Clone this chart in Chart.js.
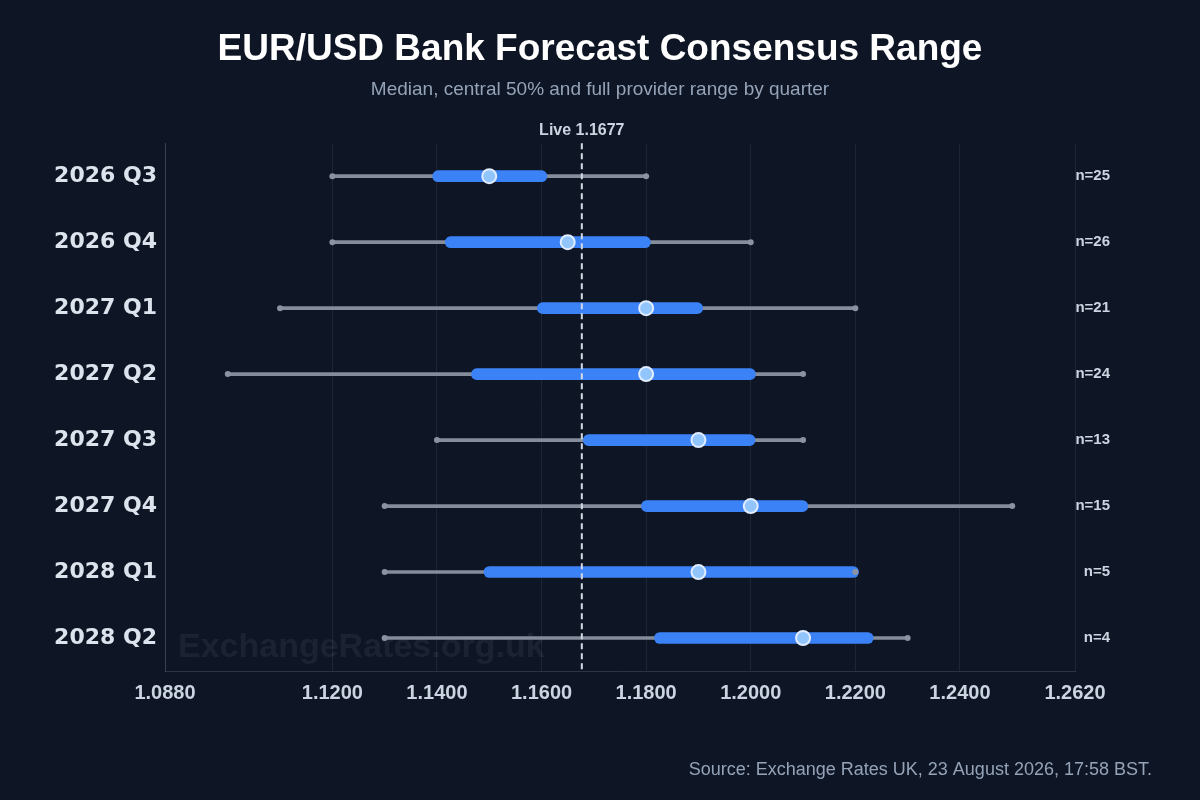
<!DOCTYPE html>
<html>
<head>
<meta charset="utf-8">
<script src="https://cdn.jsdelivr.net/npm/chart.js@4.4.1/dist/chart.umd.min.js"></script>
<style>
  html, body { margin: 0; padding: 0; background: #0e1524; }
  #wrap { width: 1200px; height: 800px; }
</style>
</head>
<body>
<div id="wrap"><canvas id="chart" width="1200" height="800"></canvas></div>
<script>
// Quarters and forecast statistics
const quarters = ["2026 Q3", "2026 Q4", "2027 Q1", "2027 Q2", "2027 Q3", "2027 Q4", "2028 Q1", "2028 Q2"];
const lows = [1.12, 1.12, 1.11, 1.10, 1.14, 1.13, 1.13, 1.13];
const highs = [1.18, 1.20, 1.22, 1.21, 1.21, 1.25, 1.22, 1.23];
const q1s = [1.1392, 1.1416, 1.1592, 1.1466, 1.1680, 1.1791, 1.1490, 1.1816];
const q3s = [1.1610, 1.1808, 1.1908, 1.2009, 1.2008, 1.2109, 1.2206, 1.2234];
const medians = [1.150, 1.165, 1.180, 1.180, 1.190, 1.200, 1.190, 1.210];
const counts = [25, 26, 21, 24, 13, 15, 5, 4];
const liveRate = 1.1677;
const xTicks = [1.088, 1.12, 1.14, 1.16, 1.18, 1.20, 1.22, 1.24, 1.262];

const FONT = "'Liberation Sans', Arial, sans-serif";

// Extra drawings: background, watermark, live line, n labels, source
const extras = {
  id: "extras",
  beforeDraw(chart) {
    const ctx = chart.ctx;
    ctx.save();
    ctx.fillStyle = "#0e1524";
    ctx.fillRect(0, 0, chart.width, chart.height);
    ctx.restore();
  },
  beforeDatasetsDraw(chart) {
    const ctx = chart.ctx;
    ctx.save();
    ctx.font = "bold 34px " + FONT;
    ctx.fillStyle = "rgba(148, 163, 184, 0.10)";
    ctx.textAlign = "left";
    ctx.textBaseline = "middle";
    ctx.fillText("ExchangeRates.org.uk", chart.chartArea.left + 13, 648);
    ctx.restore();
  },
  afterDatasetsDraw(chart) {
    const { ctx, chartArea, scales } = chart;
    const x = scales.x.getPixelForValue(liveRate);
    ctx.save();
    ctx.strokeStyle = "#d4dae3";
    ctx.lineWidth = 2;
    ctx.setLineDash([6, 4]);
    ctx.beginPath();
    ctx.moveTo(x, chartArea.top);
    ctx.lineTo(x, chartArea.bottom);
    ctx.stroke();
    ctx.setLineDash([]);

    ctx.font = "bold 16px " + FONT;
    ctx.fillStyle = "#cbd5e1";
    ctx.textAlign = "center";
    ctx.textBaseline = "middle";
    ctx.fillText("Live " + liveRate.toFixed(4), x, chartArea.top - 13);

    ctx.font = "bold 15px " + FONT;
    ctx.textAlign = "right";
    counts.forEach((n, i) => {
      ctx.fillText("n=" + n, chartArea.right + 35, scales.y.getPixelForValue(i));
    });

    ctx.font = "18px " + FONT;
    ctx.fillStyle = "#94a3b8";
    ctx.fillText("Source: Exchange Rates UK, 23 August 2026, 17:58 BST.", 1152, 770);
    ctx.restore();
  },
};

new Chart(document.getElementById("chart"), {
  type: "bar",
  data: {
    labels: quarters,
    datasets: [
      {
        type: "scatter",
        label: "Median",
        data: medians.map((m, i) => ({ x: m, y: quarters[i] })),
        pointRadius: 7,
        pointBackgroundColor: "#93c5fd",
        pointBorderColor: "#e0ecff",
        pointBorderWidth: 2,
        showLine: false,
        order: 0,
      },
      {
        type: "scatter",
        label: "Range ends",
        data: lows.map((l, i) => ({ x: l, y: quarters[i] }))
          .concat(highs.map((h, i) => ({ x: h, y: quarters[i] }))),
        pointRadius: 3,
        pointBackgroundColor: "#8a93a3",
        pointBorderWidth: 0,
        showLine: false,
        order: 1,
      },
      {
        label: "Central 50%",
        data: q1s.map((q, i) => [q, q3s[i]]),
        backgroundColor: "#3b82f6",
        barThickness: 11,
        borderRadius: 6,
        borderSkipped: false,
        grouped: false,
        order: 2,
      },
      {
        label: "Full range",
        data: lows.map((l, i) => [l, highs[i]]),
        backgroundColor: "#858d9b",
        barThickness: 3,
        grouped: false,
        order: 3,
      },
    ],
  },
  options: {
    indexAxis: "y",
    responsive: false,
    animation: false,
    layout: { padding: 0 },
    plugins: {
      legend: { display: false },
      tooltip: { enabled: false },
      title: {
        display: true,
        text: "EUR/USD Bank Forecast Consensus Range",
        color: "#ffffff",
        font: { family: FONT, size: 37, weight: "bold" },
        padding: { top: 28, bottom: 6 },
      },
      subtitle: {
        display: true,
        text: "Median, central 50% and full provider range by quarter",
        color: "#94a3b8",
        font: { family: FONT, size: 19 },
        padding: { top: 0, bottom: 42 },
      },
    },
    scales: {
      x: {
        type: "linear",
        min: 1.088,
        max: 1.262,
        afterBuildTicks: (scale) => {
          scale.ticks = xTicks.map((v) => ({ value: v }));
        },
        afterFit: (scale) => {
          scale.height = 129;
        },
        ticks: {
          autoSkip: false,
          maxRotation: 0,
          padding: 10,
          color: "#cbd5e1",
          font: { family: FONT, size: 20, weight: "bold" },
          callback: (value) => Number(value).toFixed(4),
        },
        grid: { color: "rgba(148, 163, 184, 0.12)", drawTicks: false },
        border: { color: "rgba(148, 163, 184, 0.22)" },
      },
      y: {
        type: "category",
        afterFit: (scale) => {
          scale.width = 165;
        },
        ticks: {
          padding: 8,
          color: "#dce3ec",
          font: { family: "'DejaVu Sans', Verdana, sans-serif", size: 22, weight: "bold" },
        },
        grid: { display: false, drawTicks: false },
        border: { color: "rgba(148, 163, 184, 0.22)" },
      },
      // empty right-hand band that holds the n= labels
      side: {
        type: "category",
        axis: "y",
        position: "right",
        labels: quarters,
        afterFit: (scale) => {
          scale.width = 125;
        },
        ticks: { display: false },
        grid: { display: false, drawTicks: false },
        border: { display: false },
      },
    },
  },
  plugins: [extras],
});
</script>
</body>
</html>
